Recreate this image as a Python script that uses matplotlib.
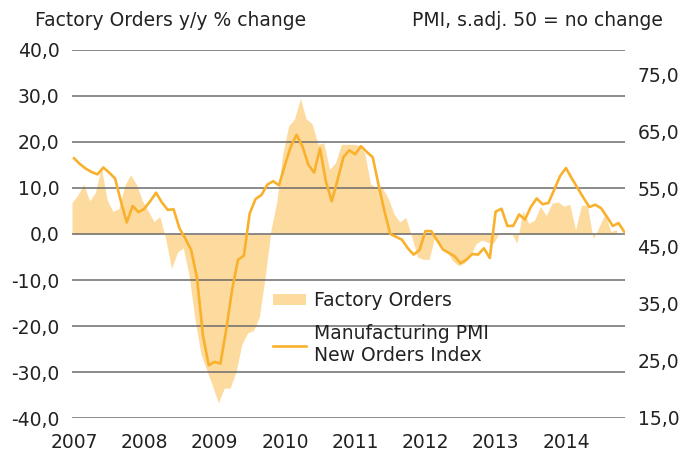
import numpy as np
import matplotlib
matplotlib.use("Agg")
import matplotlib.pyplot as plt
from matplotlib.patches import Patch
from matplotlib.lines import Line2D

# ---- data (monthly, Jan 2007 onwards) ----
factory_orders = [
    6.8, 8.5, 10.8, 7.2, 9.0, 14.5, 7.4, 4.9, 5.5, 10.5, 12.9, 10.8,
    7.3, 5.0, 2.7, 3.8, -1.0, -7.5, -4.0, -3.0, -9.0, -18.5, -26.0, -29.5,
    -33.0, -36.7, -33.5, -33.5, -30.0, -24.0, -21.5, -21.0, -18.0, -9.1, 1.0, 7.2,
    17.5, 23.5, 25.0, 29.5, 25.0, 24.0, 19.5, 19.8, 14.0, 15.5, 19.5, 19.5,
    19.5, 19.3, 17.5, 10.8, 10.2, 10.0, 7.8, 4.3, 2.6, 3.6, -0.5, -5.0,
    -5.5, -5.5, -0.3, -2.4, -3.7, -5.8, -6.9, -6.3, -4.8, -2.1, -1.3, -1.8,
    -2.0, 0.3, 0.2, 0.3, -2.0, 5.1, 2.3, 3.0, 6.0, 4.0, 6.7, 7.0,
    6.0, 6.5, 0.9, 6.2, 6.3, -1.0, 1.5, 4.3, 0.6, 0.9,
]
pmi_new_orders = [
    60.3, 59.3, 58.5, 57.9, 57.5, 58.7, 57.8, 56.8, 52.8, 49.1, 52.0, 50.9,
    51.5, 52.8, 54.3, 52.6, 51.3, 51.4, 48.1, 46.3, 44.3, 39.4, 29.5, 24.2,
    24.8, 24.5, 30.5, 37.4, 42.6, 43.3, 50.7, 53.2, 53.9, 55.7, 56.3, 55.6,
    59.1, 62.3, 64.4, 62.4, 59.2, 57.8, 62.0, 56.3, 52.8, 56.5, 60.5, 61.7,
    61.0, 62.4, 61.4, 60.5, 55.7, 51.1, 47.1, 46.6, 46.1, 44.6, 43.5, 44.3,
    47.6, 47.6, 46.0, 44.4, 43.8, 43.2, 42.0, 42.6, 43.6, 43.5, 44.6, 42.9,
    51.0, 51.5, 48.5, 48.5, 50.5, 49.6, 51.8, 53.3, 52.3, 52.5, 54.8, 57.2,
    58.6, 56.8, 55.1, 53.4, 51.8, 52.2, 51.6, 50.1, 48.5, 49.0, 47.4,
]
years = [2007, 2008, 2009, 2010, 2011, 2012, 2013, 2014]
left_ticks = [-40, -30, -20, -10, 0, 10, 20, 30, 40]
right_ticks = [15, 25, 35, 45, 55, 65, 75]

start_year = 2007
fo_x = start_year + np.arange(len(factory_orders)) / 12.0
pmi_x = start_year + (np.arange(len(pmi_new_orders)) + 0.35) / 12.0

FILL = "#FDDA9E"
LINE = "#F9B12D"
GRID = "#6b6b6b"
TXT = "#222222"
FS = 13.5

plt.rcParams["font.family"] = ["DejaVu Sans"]

W, H = 682, 455
fig = plt.figure(figsize=(W / 100, H / 100), dpi=100)
L, R, T, B = 72, 625, 50, 418
ax = fig.add_axes([L / W, 1 - B / H, (R - L) / W, (B - T) / H])
ax2 = ax.twinx()

ax.fill_between(fo_x, 0, factory_orders, color=FILL, linewidth=0, interpolate=True, zorder=1)
ax.set_ylim(-40, 40)
ax.set_yticks(left_ticks)
ax.set_yticklabels([f"{v:.1f}".replace(".", ",") for v in left_ticks])
ax.yaxis.grid(True, color=GRID, linewidth=1.1)
ax.set_axisbelow(False)
ax.set_xlim(2007, 2014.87)
ax.set_xticks([y + 0.03 for y in years])
ax.set_xticklabels([str(y) for y in years])

ax2.plot(pmi_x, pmi_new_orders, color=LINE, linewidth=1.9, zorder=3)
ax2.set_ylim(15, 79.19)
ax2.set_yticks(right_ticks)
ax2.set_yticklabels([f"{v:.1f}".replace(".", ",") for v in right_ticks])
ax2.set_xlim(2007, 2014.87)

for a in (ax, ax2):
    for s in a.spines.values():
        s.set_visible(False)
    a.tick_params(length=0, labelsize=FS, labelcolor=TXT)
ax.tick_params(axis="y", pad=9)
ax.tick_params(axis="x", pad=11)
ax2.tick_params(axis="y", pad=9)

fig.text(35 / W, 1 - 20 / H, "Factory Orders y/y % change", fontsize=FS, color=TXT,
         ha="left", va="center")
fig.text(663 / W, 1 - 20 / H, "PMI, s.adj. 50 = no change", fontsize=FS, color=TXT,
         ha="right", va="center")

handles = [Patch(facecolor=FILL, edgecolor="none"),
           Line2D([], [], color=LINE, linewidth=1.9)]
labels = ["Factory Orders", "Manufacturing PMI\nNew Orders Index"]
leg = fig.legend(handles, labels, loc="upper left",
                 bbox_to_anchor=(273 / W, 1 - 291 / H), frameon=False,
                 fontsize=FS, handlelength=1.75, handleheight=0.5,
                 handletextpad=0.42, labelspacing=0.75, borderpad=0, borderaxespad=0)
for t in leg.get_texts():
    t.set_color(TXT)

fig.savefig("out.png", dpi=100)
